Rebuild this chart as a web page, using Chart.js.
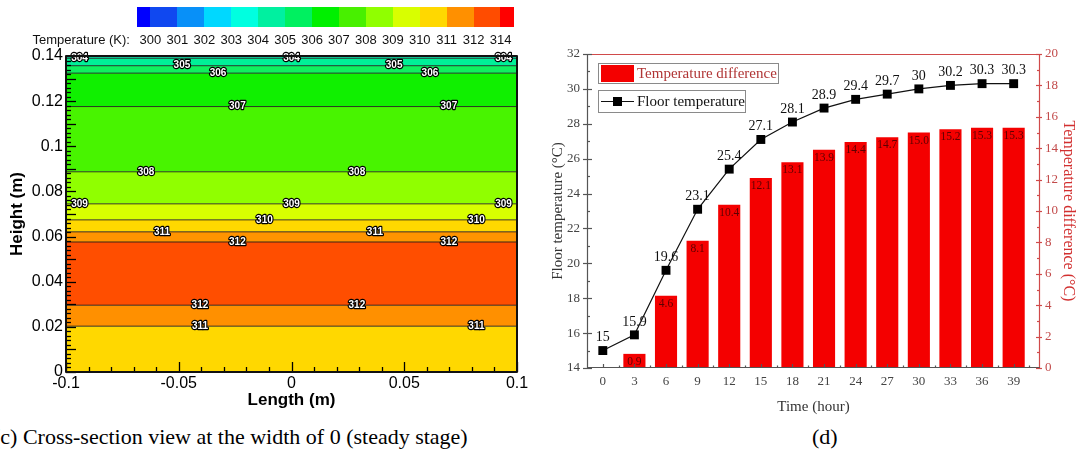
<!DOCTYPE html>
<html><head><meta charset="utf-8">
<script src="https://cdn.jsdelivr.net/npm/chart.js@4/dist/chart.umd.min.js"></script>
<style>
html,body{margin:0;padding:0;background:#fff;}
#wrap{position:relative;width:1080px;height:455px;overflow:hidden;background:#fff;}
canvas{position:absolute;}
#c1{left:0;top:0;}
#c2{left:540px;top:0;}
#cb{position:absolute;left:137px;top:7px;width:377px;height:20px;display:flex;}
#cb div{height:100%;}
.cblab{position:absolute;top:32px;font:13px 'Liberation Sans',Arial,sans-serif;color:#111;transform:translateX(-50%);white-space:nowrap;line-height:16px;}
#cbtitle{position:absolute;top:32px;right:950px;font:13px 'Liberation Sans',Arial,sans-serif;color:#111;white-space:nowrap;line-height:16px;}
.cap{position:absolute;top:423px;font:22px 'Liberation Serif','Times New Roman',serif;color:#000;white-space:nowrap;line-height:28px;}
.lgbox{position:absolute;border:1px solid #8a8a8a;background:#fff;box-sizing:border-box;}
.lgtxt{position:absolute;font:15px 'Liberation Serif','Times New Roman',serif;white-space:nowrap;line-height:18px;}
</style></head>
<body><div id="wrap">
<canvas id="c1" width="540" height="415"></canvas>
<canvas id="c2" width="540" height="420"></canvas>
<div id="cb"></div>
<div id="cbtitle">Temperature (K):</div>
<div class="cap" style="left:-7px;">(c) Cross-section view at the width of 0 (steady stage)</div>
<div class="cap" style="left:812px;">(d)</div>
<div class="lgbox" style="left:598px;top:63px;width:181px;height:21px;"></div>
<div style="position:absolute;left:601px;top:65px;width:33px;height:17px;background:#f40000;"></div>
<div class="lgtxt" style="left:637px;top:64px;color:#b03535;">Temperature difference</div>
<div class="lgbox" style="left:598px;top:90px;width:148px;height:23px;"></div>
<div style="position:absolute;left:601px;top:101px;width:33px;height:1.3px;background:#111;"></div>
<div style="position:absolute;left:613px;top:97px;width:9px;height:9px;background:#000;"></div>
<div class="lgtxt" style="left:637px;top:92px;color:#111;">Floor temperature</div>
</div>
<script>
// ---------- (c) contour data ----------
const colorbarColors = ['#0000ff','#1048f0','#0890f8','#00d8ff','#00ffe0','#00f0a0','#00f060','#00f000','#48f000','#90ff00','#d8ff00','#ffd800','#ff9000','#ff4c00','#ff0000'];
const colorbarLabels = ['300','301','302','303','304','305','306','307','308','309','310','311','312','314'];
const contourHeights = [0.0203, 0.0296, 0.0576, 0.0621, 0.0674, 0.0745, 0.0887, 0.1176, 0.1324, 0.1357, 0.1390];
const contourLevels  = ['311','312','312','311','310','309','308','307','306','305','304'];
const bandColors     = ['#ffd800','#ff9000','#ff4e00','#ff9400','#ffd800','#d8ff00','#90ff00','#48f400','#10f000','#10f060','#00f098','#10e8b0'];
const contourLabelX  = [
  [-0.0406, 0.082],
  [-0.0406, 0.029],
  [-0.024, 0.0698],
  [-0.0574, 0.037],
  [-0.012, 0.082],
  [-0.094, 0, 0.094],
  [-0.0645, 0.029],
  [-0.024, 0.0698],
  [-0.0326, 0.0614],
  [-0.0486, 0.0455],
  [-0.094, 0, 0.094]
];
// ---------- (d) data ----------
const hours      = [0,3,6,9,12,15,18,21,24,27,30,33,36,39];
const floorTemp  = [15,15.9,19.6,23.1,25.4,27.1,28.1,28.9,29.4,29.7,30,30.2,30.3,30.3];
const floorLabels= ['15','15.9','19.6','23.1','25.4','27.1','28.1','28.9','29.4','29.7','30','30.2','30.3','30.3'];
const tempDiff   = [0,0.9,4.6,8.1,10.4,12.1,13.1,13.9,14.4,14.7,15.0,15.2,15.3,15.3];
const diffLabels = ['','0.9','4.6','8.1','10.4','12.1','13.1','13.9','14.4','14.7','15.0','15.2','15.3','15.3'];

// colorbar (HTML legend)
const cb = document.getElementById('cb');
const nSeg = colorbarColors.length;
colorbarColors.forEach((c,i)=>{
  const d=document.createElement('div');
  d.style.flex = (i===0||i===nSeg-1)?'0.5':'1';
  d.style.background=c; cb.appendChild(d);
});
const cbLeft=137, cbW=377, units=nSeg-1;
colorbarLabels.forEach((t,k)=>{
  const s=document.createElement('div'); s.className='cblab'; s.textContent=t;
  s.style.left=(cbLeft+cbW*(0.5+k)/units)+'px';
  document.getElementById('wrap').appendChild(s);
});

const trimNum = v => String(+Number(v).toFixed(4));

// ---------- Chart (c) ----------
const bounds=[0,...contourHeights,0.14];
const contourDs = bounds.map((h,i)=>{
  const isLine = i>0 && i<bounds.length-1;
  return {
    data:[{x:-0.1,y:h},{x:0.1,y:h}],
    borderColor: isLine?'rgba(25,25,25,0.85)':'rgba(0,0,0,0)',
    borderWidth: isLine?1:0,
    pointRadius:0,
    fill: i===0?false:'-1',
    backgroundColor: i===0?'rgba(0,0,0,0)':bandColors[i-1],
    tension:0
  };
});
const contourPlugin = {
  id:'contourDeco',
  afterDatasetsDraw(chart){
    const {ctx, chartArea:a, scales:{x,y}} = chart;
    ctx.save();
    ctx.font='bold 10px "Liberation Sans", Arial, sans-serif';
    ctx.textAlign='center'; ctx.textBaseline='middle';
    ctx.lineJoin='round';
    contourHeights.forEach((h,i)=>{
      contourLabelX[i].forEach(xv=>{
        const px=x.getPixelForValue(xv), py=y.getPixelForValue(h);
        ctx.strokeStyle='#000'; ctx.lineWidth=2.4; ctx.strokeText(contourLevels[i],px,py);
        ctx.fillStyle='#fff'; ctx.fillText(contourLevels[i],px,py);
      });
    });
    ctx.strokeStyle='#000'; ctx.lineWidth=1.3;
    for(let k=0;k<=70;k++){
      const v=k*0.002; const py=Math.round(y.getPixelForValue(v))+0.5;
      const len = (k%5===0)?10:5;
      ctx.beginPath(); ctx.moveTo(a.left,py); ctx.lineTo(a.left+len,py); ctx.stroke();
    }
    for(let k=0;k<=20;k++){
      const v=-0.1+k*0.01; const px=Math.round(x.getPixelForValue(v))+0.5;
      const len=(k%5===0)?10:5;
      ctx.beginPath(); ctx.moveTo(px,a.bottom); ctx.lineTo(px,a.bottom-len); ctx.stroke();
    }
    ctx.lineWidth=2; ctx.strokeStyle='#111';
    ctx.strokeRect(a.left,a.top,a.right-a.left,a.bottom-a.top);
    ctx.restore();
  }
};
new Chart(document.getElementById('c1'),{
  type:'line',
  data:{datasets:contourDs},
  plugins:[contourPlugin],
  options:{
    responsive:false, animation:false, devicePixelRatio:1,
    layout:{padding:{left:0,top:56,right:23,bottom:0}},
    plugins:{legend:{display:false},tooltip:{enabled:false},filler:{drawTime:'beforeDatasetsDraw'}},
    scales:{
      x:{type:'linear',min:-0.1,max:0.1,
        ticks:{stepSize:0.05,color:'#000',padding:2,maxRotation:0,autoSkip:false,font:{family:'Liberation Sans',size:16},callback:trimNum},
        grid:{display:false,drawTicks:false},border:{display:false},
        title:{display:true,text:'Length (m)',color:'#000',font:{family:'Liberation Sans',size:17,weight:'bold'},padding:{top:0,bottom:4}},
        afterFit:s=>{s.height=43;}},
      y:{type:'linear',min:0,max:0.14,
        ticks:{stepSize:0.02,color:'#000',padding:3,autoSkip:false,font:{family:'Liberation Sans',size:16},callback:trimNum},
        grid:{display:false,drawTicks:false},border:{display:false},
        title:{display:true,text:'Height (m)',color:'#000',font:{family:'Liberation Sans',size:17,weight:'bold'},padding:{top:7,bottom:0}},
        afterFit:s=>{s.width=66;}}
    }
  }
});

// ---------- Chart (d) ----------
const decoD = {
  id:'decoD',
  afterDatasetsDraw(chart){
    const {ctx, chartArea:a, scales:{x,y,y2}} = chart;
    ctx.save();
    const barMeta = chart.getDatasetMeta(1);
    ctx.font='11.5px "Liberation Serif", "Times New Roman", serif';
    ctx.textAlign='center'; ctx.textBaseline='middle'; ctx.fillStyle='#5e0000';
    barMeta.data.forEach((b,i)=>{ if(diffLabels[i]) ctx.fillText(diffLabels[i], b.x, b.y+8); });
    const lineMeta = chart.getDatasetMeta(0);
    ctx.font='14px "Liberation Serif", "Times New Roman", serif'; ctx.fillStyle='#111';
    lineMeta.data.forEach((p,i)=>{ ctx.fillText(floorLabels[i], p.x, p.y-13); });
    ctx.lineWidth=1.2;
    ctx.strokeStyle='#d04a4a';
    ctx.beginPath(); ctx.moveTo(a.left,a.top+0.5); ctx.lineTo(a.right,a.top+0.5); ctx.stroke();
    ctx.beginPath(); ctx.moveTo(a.right-0.5,a.top); ctx.lineTo(a.right-0.5,a.bottom); ctx.stroke();
    ctx.strokeStyle='#555';
    ctx.beginPath(); ctx.moveTo(a.left+0.5,a.top); ctx.lineTo(a.left+0.5,a.bottom); ctx.stroke();
    ctx.beginPath(); ctx.moveTo(a.left,a.bottom-0.5); ctx.lineTo(a.right,a.bottom-0.5); ctx.stroke();
    for(let v=14; v<=32; v++){
      const py=Math.round(y.getPixelForValue(v))+0.5;
      ctx.beginPath();
      if(v%2===0){ctx.moveTo(a.left-4,py); ctx.lineTo(a.left+5,py);} else {ctx.moveTo(a.left,py); ctx.lineTo(a.left+3,py);}
      ctx.stroke();
    }
    hours.forEach(h=>{
      let px=Math.round(x.getPixelForValue(h))+0.5;
      ctx.beginPath(); ctx.moveTo(px,a.bottom); ctx.lineTo(px,a.bottom-4); ctx.stroke();
      px=Math.round(x.getPixelForValue(h+1.5))+0.5;
      ctx.beginPath(); ctx.moveTo(px,a.bottom); ctx.lineTo(px,a.bottom-2.5); ctx.stroke();
    });
    ctx.strokeStyle='#d04a4a';
    for(let v=0; v<=20; v++){
      const py=Math.round(y2.getPixelForValue(v))+0.5;
      ctx.beginPath();
      if(v%2===0){ctx.moveTo(a.right-4,py); ctx.lineTo(a.right+2,py);} else {ctx.moveTo(a.right-3,py); ctx.lineTo(a.right,py);}
      ctx.stroke();
    }
    ctx.restore();
  }
};
const serif='Liberation Serif';
new Chart(document.getElementById('c2'),{
  type:'bar',
  data:{datasets:[
    {type:'line',label:'Floor temperature',data:hours.map((h,i)=>({x:h,y:floorTemp[i]})),yAxisID:'y',
     borderColor:'#111',borderWidth:1.2,pointStyle:'rect',pointRadius:6.3,pointBackgroundColor:'#000',pointBorderColor:'#000',pointBorderWidth:0,tension:0,order:0},
    {type:'bar',label:'Temperature difference',data:hours.map((h,i)=>({x:h,y:tempDiff[i]})),yAxisID:'y2',
     backgroundColor:'#f40000',borderWidth:0,barPercentage:0.7,categoryPercentage:1,order:1}
  ]},
  plugins:[decoD],
  options:{
    responsive:false, animation:false, devicePixelRatio:1,
    layout:{padding:{left:0,top:54,right:0,bottom:0}},
    plugins:{legend:{display:false},tooltip:{enabled:false}},
    scales:{
      x:{type:'linear',min:-1.5,max:41.5,offset:false,
        afterBuildTicks:s=>{s.ticks=hours.map(v=>({value:v}));},
        ticks:{color:'#444',padding:6,maxRotation:0,autoSkip:false,font:{family:serif,size:13}},
        grid:{display:false,drawTicks:false,offset:false},border:{display:false},
        title:{display:true,text:'Time (hour)',color:'#333',font:{family:serif,size:15},padding:{top:0,bottom:4}},
        afterFit:s=>{s.height=52;}},
      y:{type:'linear',position:'left',min:14,max:32,
        ticks:{stepSize:2,color:'#444',padding:7,font:{family:serif,size:13}},
        grid:{display:false,drawTicks:false},border:{display:false},
        title:{display:true,text:'Floor temperature (°C)',color:'#333',font:{family:serif,size:15},padding:{top:9,bottom:0}},
        afterFit:s=>{s.width=47;}},
      y2:{type:'linear',position:'right',min:0,max:20,
        ticks:{stepSize:2,color:'#c24a4a',padding:5,font:{family:serif,size:13}},
        grid:{display:false,drawTicks:false},border:{display:false},
        title:{display:true,text:'Temperature difference (°C)',color:'#d23030',font:{family:serif,size:16},padding:{top:2,bottom:0}},
        afterFit:s=>{s.width=40;}}
    }
  }
});
</script>
</body></html>
